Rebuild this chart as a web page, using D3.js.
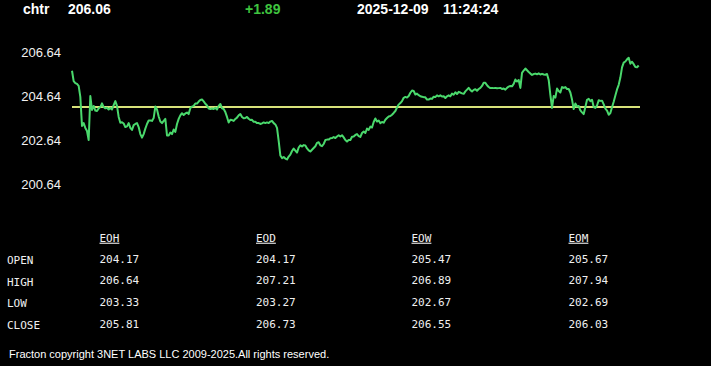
<!DOCTYPE html>
<html><head><meta charset="utf-8">
<script src="https://cdn.jsdelivr.net/npm/d3@7"></script>
<style>
html,body{margin:0;padding:0;background:#000;overflow:hidden;}
svg{display:block;}
</style></head>
<body>
<script>
const symbol = "chtr";
const lastPrice = "206.06";
const change = "+1.89";
const dateStr = "2025-12-09";
const timeStr = "11:24:24";
const yTicks = [206.64, 204.64, 202.64, 200.64];
const openPrice = 204.17;
const prices = [
205.82,205.35,205.26,205.22,205.13,204.63,203.31,203.44,203.22,203.08,
202.67,204.67,204.04,204.22,204.01,203.99,204.11,204.17,204.34,204.17,
204.11,204.14,204.06,204.13,204.06,204.26,204.44,204.22,203.72,203.46,
203.48,203.42,203.26,203.29,203.44,203.22,203.13,203.35,203.40,203.44,
203.26,202.94,202.78,202.94,203.19,203.40,203.56,203.56,203.54,203.67,
204.19,204.06,203.74,203.51,203.44,203.54,203.63,202.88,202.88,203.01,
202.94,203.15,203.04,203.40,203.63,203.79,203.89,203.81,203.88,203.92,
203.85,204.13,204.19,204.22,204.33,204.33,204.42,204.49,204.51,204.43,
204.32,204.24,204.10,204.08,204.10,204.08,204.14,204.06,204.22,204.31,
204.11,204.08,203.94,203.72,203.47,203.59,203.58,203.54,203.63,203.69,
203.79,203.85,203.72,203.66,203.67,203.72,203.64,203.58,203.59,203.50,
203.50,203.44,203.44,203.40,203.43,203.47,203.44,203.47,203.44,203.51,
203.54,203.44,203.38,203.22,202.63,201.97,201.85,201.90,201.83,201.79,
201.92,202.01,202.17,202.28,202.19,202.10,202.33,202.43,202.38,202.44,
202.42,202.29,202.20,202.15,202.23,202.31,202.39,202.54,202.57,202.43,
202.39,202.49,202.67,202.69,202.69,202.75,202.76,202.81,202.76,202.83,
202.89,202.83,202.89,202.79,202.67,202.60,202.67,202.67,202.82,202.83,
202.90,202.94,202.85,202.81,202.99,203.06,202.99,203.19,203.13,203.28,
203.24,203.49,203.65,203.51,203.56,203.44,203.49,203.46,203.59,203.67,
203.74,203.76,203.82,203.90,203.99,204.15,204.28,204.35,204.44,204.59,
204.63,204.60,204.67,204.82,204.92,204.90,204.74,204.78,204.71,204.66,
204.64,204.62,204.61,204.51,204.51,204.56,204.54,204.64,204.63,204.70,
204.66,204.70,204.65,204.66,204.58,204.66,204.70,204.66,204.78,204.73,
204.84,204.76,204.86,204.83,204.79,204.77,204.88,204.96,205.04,204.94,
204.88,204.95,204.98,204.91,204.99,205.04,205.13,205.27,205.27,205.16,
205.08,205.03,205.04,205.03,205.04,205.02,205.03,205.04,204.99,205.01,
204.96,205.04,205.10,205.13,205.11,205.22,205.42,205.33,205.40,205.04,
205.72,205.83,205.92,205.84,205.76,205.69,205.63,205.67,205.69,205.66,
205.70,205.65,205.68,205.65,205.64,205.67,205.40,204.72,204.13,204.67,
204.60,205.01,204.90,204.83,205.08,205.04,205.08,204.99,204.99,204.83,
204.51,204.08,204.33,204.19,204.22,204.02,203.93,203.85,204.17,204.50,
204.54,204.44,204.50,204.17,204.13,204.24,204.48,204.45,204.46,204.29,
204.10,204.01,203.82,203.90,204.16,204.41,204.69,204.97,205.18,205.51,
205.97,206.19,206.24,206.34,206.41,206.14,206.23,206.12,205.99,205.98,
206.06
];
const periods = ["EOH", "EOD", "EOW", "EOM"];
const rowLabels = ["OPEN", "HIGH", "LOW", "CLOSE"];
const openVals  = ["204.17", "204.17", "205.47", "205.67"];
const highVals  = ["206.64", "207.21", "206.89", "207.94"];
const lowVals   = ["203.33", "203.27", "202.67", "202.69"];
const closeVals = ["205.81", "206.73", "206.55", "206.03"];
const footer = "Fracton copyright 3NET LABS LLC 2009-2025.All rights reserved.";

const W = 711, H = 366;
const svg = d3.select("body").append("svg").attr("width", W).attr("height", H)
  .style("background", "#000");

// header
const hdr = svg.append("g").attr("font-family", "Arial, 'Liberation Sans', sans-serif")
  .attr("font-weight", "bold").attr("font-size", 14);
hdr.append("text").attr("x", 23).attr("y", 14).attr("fill", "#fff").text(symbol);
hdr.append("text").attr("x", 68).attr("y", 14).attr("fill", "#fff").text(lastPrice);
hdr.append("text").attr("x", 245).attr("y", 14).attr("fill", "#3fc43f").text(change);
hdr.append("text").attr("x", 357).attr("y", 14).attr("fill", "#fff").text(dateStr);
hdr.append("text").attr("x", 443).attr("y", 14).attr("fill", "#fff").text(timeStr);

// scales
const x = d3.scaleLinear().domain([0, prices.length - 1]).range([72, 638.7]);
const y = d3.scaleLinear().domain([206.64, 200.64]).range([52.7, 184.7]);

// y axis
const yAxis = d3.axisLeft(y).tickValues(yTicks).tickSize(0).tickPadding(0)
  .tickFormat(d3.format(".2f"));
const ag = svg.append("g").attr("transform", "translate(61,0)").call(yAxis);
ag.select(".domain").remove();
ag.selectAll("text").attr("fill", "#f2f2f2").attr("font-size", 13)
  .attr("font-family", "Arial, 'Liberation Sans', sans-serif");

// open line
svg.append("line").attr("x1", x(0)).attr("x2", 640)
  .attr("y1", y(openPrice)).attr("y2", y(openPrice))
  .attr("stroke", "#d8e27a").attr("stroke-width", 2);

// price line
const line = d3.line().x((d, i) => x(i)).y(d => y(d));
svg.append("path").datum(prices).attr("d", line)
  .attr("fill", "none").attr("stroke", "#4ad86c").attr("stroke-width", 2)
  .attr("stroke-linejoin", "round");

// table
const colX = [99.5, 256, 411.5, 568.5];
const rowY = [264, 285.5, 307.3, 329];
const tbl = svg.append("g").attr("font-family", "'DejaVu Sans Mono', 'Liberation Mono', monospace")
  .attr("font-size", 11).attr("fill", "#f0f0f0");
periods.forEach((p, i) => {
  tbl.append("text").attr("x", colX[i]).attr("y", 241.7)
    .attr("text-decoration", "underline").text(p);
});
const rows = [openVals, highVals, lowVals, closeVals];
rowLabels.forEach((r, j) => {
  tbl.append("text").attr("x", 7).attr("y", rowY[j]).text(r);
  rows[j].forEach((v, i) => {
    tbl.append("text").attr("x", colX[i]).attr("y", rowY[j] - 1.5).text(v);
  });
});

// footer
svg.append("text").attr("x", 9).attr("y", 358.3)
  .attr("font-family", "Arial, 'Liberation Sans', sans-serif")
  .attr("font-size", 11).attr("fill", "#fff").text(footer);
</script>
</body></html>
